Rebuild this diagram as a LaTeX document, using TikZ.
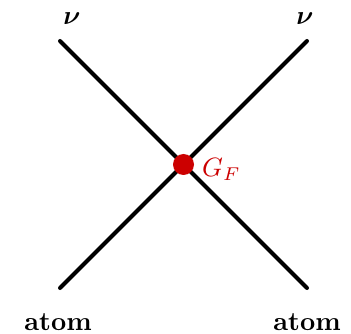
\documentclass[tikz,border=0pt]{standalone}
\usepackage{amsmath, amssymb}
\usetikzlibrary{positioning}
\definecolor{fRed}{HTML}{CC0000}
\newcommand{\bigtxt}[1]{\scalebox{2.65}{#1}}

\begin{document}
\begin{tikzpicture}[x=1pt, y=-1pt,
      leg/.style={line width=4pt, line cap=round},
      vtx/.style={circle, fill=fRed, minimum size=21pt, inner sep=0pt},
      lbl/.style={inner sep=0pt}]
    \useasboundingbox (0,0) rectangle (351,334);
    % line ends
    \coordinate (tl) at (60,41);
    \coordinate (tr) at (307,41);
    \coordinate (bl) at (60,288);
    \coordinate (br) at (307,288);
    \draw[leg] (tl) -- (br);
    \draw[leg] (tr) -- (bl);
    \node[vtx] (v) at (183.5,164.5) {};
    \node[lbl, text=fRed, anchor=base west] (gf) at (202,177) {\bigtxt{$G_F$}};
    % labels
    \node[lbl, anchor=base] (nuL) at (72,25) {\bigtxt{$\boldsymbol{\nu}$}};
    \node[lbl, anchor=base] (nuR) at (305,25) {\bigtxt{$\boldsymbol{\nu}$}};
    \node[lbl, anchor=base] (atL) at (58,330) {\bigtxt{\bfseries atom}};
    \node[lbl, anchor=base] (atR) at (307,330) {\bigtxt{\bfseries atom}};
  \end{tikzpicture}
\end{document}
